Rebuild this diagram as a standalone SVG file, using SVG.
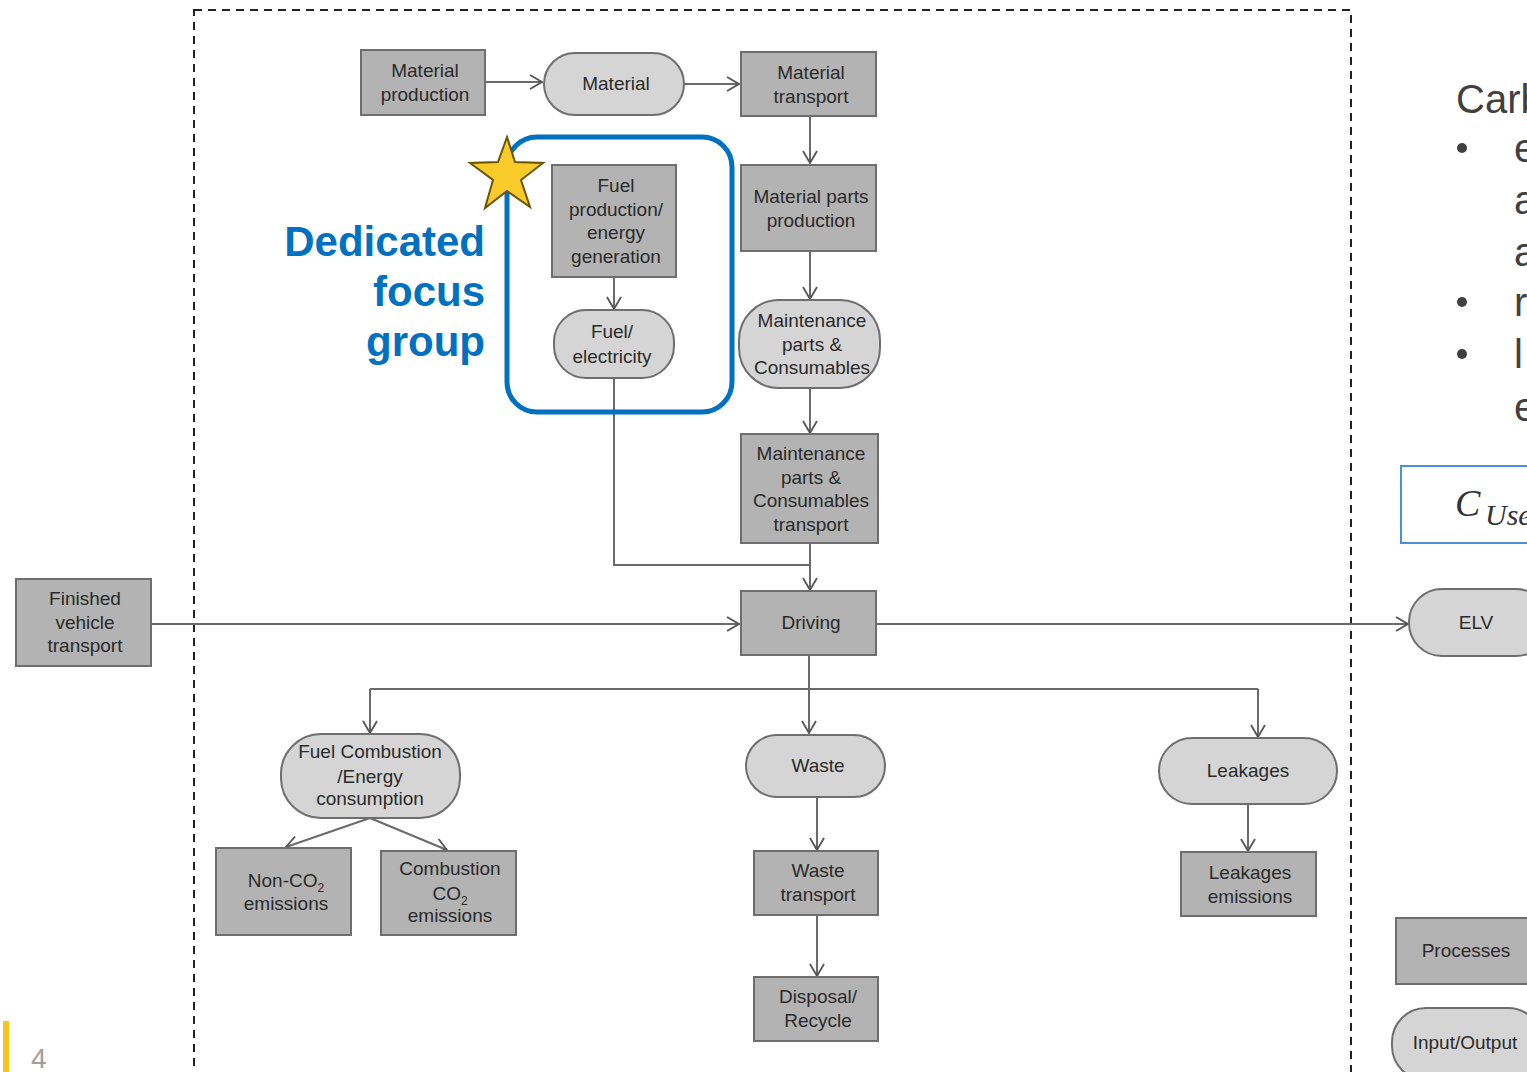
<svg xmlns="http://www.w3.org/2000/svg" width="1527" height="1072" viewBox="0 0 1527 1072">
<style>
.proc{fill:#b3b3b3;stroke:#6e6e6e;stroke-width:2}
.io{fill:#d5d5d5;stroke:#6e6e6e;stroke-width:2}
.t{font-family:"Liberation Sans",Arial,sans-serif;font-size:19px;fill:#2a2a2a;text-anchor:middle}
.c{fill:none;stroke:#6a6a6a;stroke-width:2}
.r{font-family:"Liberation Sans",Arial,sans-serif;font-size:40px;fill:#404040}
</style>
<defs>
<marker id="a" viewBox="0 0 14 16" refX="13" refY="8" markerWidth="14" markerHeight="16" markerUnits="userSpaceOnUse" orient="auto">
<path d="M1,1 L13,8 L1,15" fill="none" stroke="#555" stroke-width="1.8"/>
</marker>
</defs>
<rect width="1527" height="1072" fill="#fff"/>
<rect x="194" y="10" width="1157" height="1100" fill="none" stroke="#222" stroke-width="2" stroke-dasharray="8,6"/>

<g id="connectors">
<line class="c" x1="485" y1="82" x2="542" y2="82" marker-end="url(#a)"/>
<line class="c" x1="684" y1="84" x2="739" y2="84" marker-end="url(#a)"/>
<line class="c" x1="810" y1="116" x2="810" y2="163" marker-end="url(#a)"/>
<line class="c" x1="810" y1="251" x2="810" y2="299" marker-end="url(#a)"/>
<line class="c" x1="810" y1="388" x2="810" y2="433" marker-end="url(#a)"/>
<line class="c" x1="810" y1="543" x2="810" y2="590" marker-end="url(#a)"/>
<line class="c" x1="614" y1="277" x2="614" y2="309" marker-end="url(#a)"/>
<polyline class="c" points="614,378 614,565 810,565"/>
<line class="c" x1="151" y1="624" x2="739" y2="624" marker-end="url(#a)"/>
<line class="c" x1="876" y1="624" x2="1408" y2="624" marker-end="url(#a)"/>
<line class="c" x1="809" y1="655" x2="809" y2="733" marker-end="url(#a)"/>
<line class="c" x1="370" y1="689" x2="1258" y2="689"/>
<line class="c" x1="370" y1="689" x2="370" y2="733" marker-end="url(#a)"/>
<line class="c" x1="1258" y1="689" x2="1258" y2="737" marker-end="url(#a)"/>
<line class="c" x1="370" y1="818" x2="286" y2="847" marker-end="url(#a)"/>
<line class="c" x1="370" y1="818" x2="447" y2="850" marker-end="url(#a)"/>
<line class="c" x1="817" y1="797" x2="817" y2="850" marker-end="url(#a)"/>
<line class="c" x1="817" y1="915" x2="817" y2="976" marker-end="url(#a)"/>
<line class="c" x1="1248" y1="804" x2="1248" y2="851" marker-end="url(#a)"/>
</g>

<g id="material-production"><rect class="proc" x="361" y="50" width="124" height="65"/><text class="t" x="425" y="77">Material</text><text class="t" x="425" y="101">production</text></g>
<g id="material"><rect class="io" x="544" y="53" width="140" height="62" rx="31"/><text class="t" x="616" y="90">Material</text></g>
<g id="material-transport"><rect class="proc" x="741" y="52" width="135" height="64"/><text class="t" x="811" y="79">Material</text><text class="t" x="811" y="103">transport</text></g>
<g id="fuel-production"><rect class="proc" x="552" y="165" width="124" height="112"/><text class="t" x="616" y="192">Fuel</text><text class="t" x="616" y="216">production/</text><text class="t" x="616" y="239">energy</text><text class="t" x="616" y="263">generation</text></g>
<g id="fuel-electricity"><rect class="io" x="554" y="310" width="120" height="68" rx="32"/><text class="t" x="612" y="338">Fuel/</text><text class="t" x="612" y="363">electricity</text></g>
<g id="material-parts"><rect class="proc" x="741" y="165" width="135" height="86"/><text class="t" x="811" y="203">Material parts</text><text class="t" x="811" y="227">production</text></g>
<g id="maintenance-io"><rect class="io" x="739" y="300" width="141" height="88" rx="40"/><text class="t" x="812" y="327">Maintenance</text><text class="t" x="812" y="351">parts &amp;</text><text class="t" x="812" y="374">Consumables</text></g>
<g id="maintenance-transport"><rect class="proc" x="741" y="434" width="137" height="109"/><text class="t" x="811" y="460">Maintenance</text><text class="t" x="811" y="484">parts &amp;</text><text class="t" x="811" y="507">Consumables</text><text class="t" x="811" y="531">transport</text></g>
<g id="driving"><rect class="proc" x="741" y="591" width="135" height="64"/><text class="t" x="811" y="629">Driving</text></g>
<g id="finished-vehicle"><rect class="proc" x="16" y="579" width="135" height="87"/><text class="t" x="85" y="605">Finished</text><text class="t" x="85" y="629">vehicle</text><text class="t" x="85" y="652">transport</text></g>
<g id="elv"><rect class="io" x="1409" y="589" width="140" height="67" rx="33"/><text class="t" x="1476" y="629">ELV</text></g>
<g id="fuel-combustion"><rect class="io" x="281" y="734" width="179" height="84" rx="40"/><text class="t" x="370" y="758">Fuel Combustion</text><text class="t" x="370" y="783">/Energy</text><text class="t" x="370" y="805">consumption</text></g>
<g id="non-co2"><rect class="proc" x="216" y="848" width="135" height="87"/><text class="t" x="286" y="887">Non-CO<tspan font-size="12" dy="5">2</tspan></text><text class="t" x="286" y="910">emissions</text></g>
<g id="combustion-co2"><rect class="proc" x="381" y="851" width="135" height="84"/><text class="t" x="450" y="875">Combustion</text><text class="t" x="450" y="900">CO<tspan font-size="12" dy="5">2</tspan></text><text class="t" x="450" y="922">emissions</text></g>
<g id="waste"><rect class="io" x="746" y="735" width="139" height="62" rx="31"/><text class="t" x="818" y="772">Waste</text></g>
<g id="waste-transport"><rect class="proc" x="754" y="851" width="124" height="64"/><text class="t" x="818" y="877">Waste</text><text class="t" x="818" y="901">transport</text></g>
<g id="disposal"><rect class="proc" x="754" y="977" width="124" height="64"/><text class="t" x="818" y="1003">Disposal/</text><text class="t" x="818" y="1027">Recycle</text></g>
<g id="leakages"><rect class="io" x="1159" y="738" width="178" height="66" rx="33"/><text class="t" x="1248" y="777">Leakages</text></g>
<g id="leakages-emissions"><rect class="proc" x="1181" y="852" width="135" height="64"/><text class="t" x="1250" y="879">Leakages</text><text class="t" x="1250" y="903">emissions</text></g>
<g id="legend-processes"><rect class="proc" x="1396" y="918" width="145" height="66"/><text class="t" x="1466" y="957">Processes</text></g>
<g id="legend-io"><rect class="io" x="1392" y="1008" width="150" height="72" rx="34"/><text class="t" x="1465" y="1049">Input/Output</text></g>

<g id="focus-group">
<rect x="507" y="137" width="225" height="275" rx="30" fill="none" stroke="#0070c0" stroke-width="5"/>
<polygon points="507,137 515,162 543,163 521,180 530,207 507,191 485,208 493,180 470,163 498,162" fill="#f8ca2a" stroke="#6b5500" stroke-width="2"/>
<g font-family="'Liberation Sans',Arial,sans-serif" font-weight="bold" font-size="42" fill="#0070c0" text-anchor="end">
<text x="485" y="256">Dedicated</text><text x="485" y="306">focus</text><text x="485" y="356">group</text>
</g>
</g>

<g id="side-text">
<text class="r" x="1456" y="113">Carb</text>
<g fill="#404040"><circle cx="1462" cy="148" r="5"/><circle cx="1462" cy="302" r="5"/><circle cx="1462" cy="354" r="5"/></g>
<text class="r" x="1514" y="162">e</text>
<text class="r" x="1514" y="214">a</text>
<text class="r" x="1514" y="266">a</text>
<text class="r" x="1514" y="316">r</text>
<text class="r" x="1514" y="368">l</text>
<text class="r" x="1514" y="421">e</text>
<rect x="1401" y="466" width="140" height="77" fill="#fff" stroke="#4a90d9" stroke-width="2"/>
<text x="1455" y="516" font-family="'Liberation Serif',serif" font-style="italic" font-size="38" fill="#333">C</text>
<text x="1485" y="525" font-family="'Liberation Serif',serif" font-style="italic" font-size="30" fill="#333">Use</text>
</g>

<g id="page-number">
<rect x="3" y="1021" width="6" height="51" fill="#f5c518"/>
<text x="31" y="1068" font-family="'Liberation Sans',Arial,sans-serif" font-size="28" fill="#a0a0a0">4</text>
</g>
</svg>
